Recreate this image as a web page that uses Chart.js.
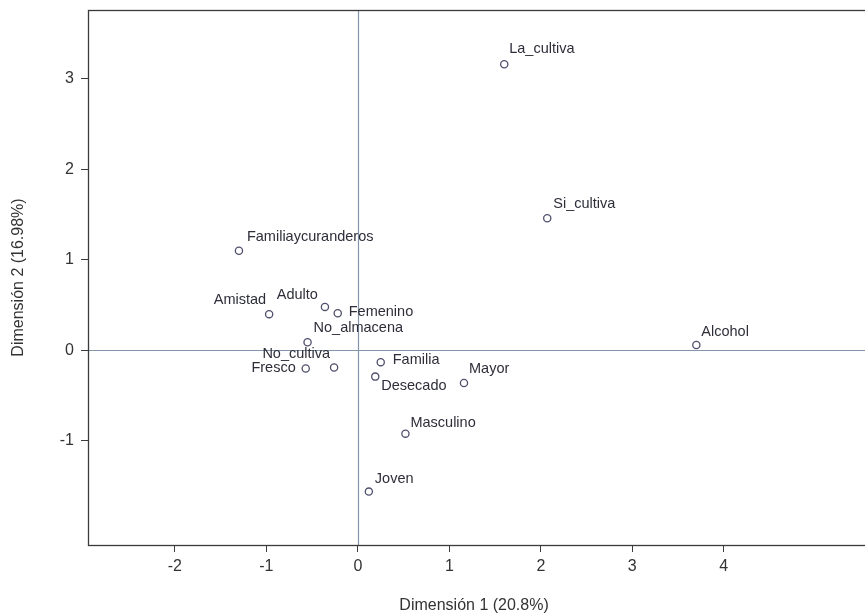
<!DOCTYPE html>
<html>
<head>
<meta charset="utf-8">
<script src="https://cdn.jsdelivr.net/npm/chart.js@4"></script>
<style>
html,body{margin:0;padding:0;background:#fff;}
#wrap{width:865px;height:615px;position:relative;}
</style>
</head>
<body>
<div id="wrap"><canvas id="c" width="865" height="615"></canvas></div>
<script>
// ---- data ----
const categories = ['La_cultiva','Si_cultiva','Familiaycuranderos','Amistad','Adulto','Femenino','No_almacena','Fresco','No_cultiva','Familia','Desecado','Mayor','Alcohol','Masculino','Joven'];
const dim1 = [1.60, 2.07, -1.30, -0.97, -0.36, -0.22, -0.55, -0.57, -0.26, 0.25, 0.19, 1.16, 3.70, 0.52, 0.12];
const dim2 = [3.16, 1.46, 1.10, 0.40, 0.48, 0.41, 0.09, -0.20, -0.19, -0.13, -0.29, -0.36, 0.06, -0.92, -1.56];
const xTickValues = [-2, -1, 0, 1, 2, 3, 4];
const yTickValues = [-1, 0, 1, 2, 3];
const xTitle = 'Dimensión 1 (20.8%)';
const yTitle = 'Dimensión 2 (16.98%)';

// ---- label placement (layout only) ----
const labelPlacement = {
  'La_cultiva': [5, -15, 'left'],
  'Si_cultiva': [6, -14, 'left'],
  'Familiaycuranderos': [8, -14, 'left'],
  'Amistad': [-3, -14, 'right'],
  'Adulto': [-7, -12, 'right'],
  'Femenino': [11, -1, 'left'],
  'No_almacena': [6, -14, 'left'],
  'Fresco': [-10, 0, 'right'],
  'No_cultiva': [-4, -14, 'right'],
  'Familia': [12, -2, 'left'],
  'Desecado': [6, 9, 'left'],
  'Mayor': [5, -14, 'left'],
  'Alcohol': [5, -13, 'left'],
  'Masculino': [5, -11, 'left'],
  'Joven': [6, -13, 'left']
};

const FONT = '"Liberation Sans", Arial, sans-serif';
const points = dim1.map((x, i) => ({x: x, y: dim2[i], label: categories[i]}));

const framePlugin = {
  id: 'frame',
  beforeDatasetsDraw(chart) {
    const {ctx, chartArea: a, scales} = chart;
    ctx.save();
    // zero reference lines
    ctx.strokeStyle = '#8196ab';
    ctx.lineWidth = 1.2;
    const x0 = Math.round(scales.x.getPixelForValue(0)) + 0.5;
    const y0 = Math.round(scales.y.getPixelForValue(0)) + 0.5;
    ctx.beginPath();
    ctx.moveTo(x0, a.top); ctx.lineTo(x0, a.bottom);
    ctx.moveTo(a.left, y0); ctx.lineTo(chart.width, y0);
    ctx.stroke();
    // frame
    ctx.strokeStyle = '#3a3a3a';
    ctx.lineWidth = 1.3;
    ctx.strokeRect(a.left + 0.5, a.top + 0.5, chart.width - a.left + 4, a.bottom - a.top);
    ctx.restore();
  },
  afterDatasetsDraw(chart) {
    const {ctx} = chart;
    const meta = chart.getDatasetMeta(0);
    ctx.save();
    ctx.font = '14.5px ' + FONT;
    ctx.fillStyle = '#2e2e3a';
    ctx.textBaseline = 'middle';
    meta.data.forEach((el, i) => {
      const name = categories[i];
      const p = labelPlacement[name] || [5, -12, 'left'];
      ctx.textAlign = p[2];
      ctx.fillText(name, el.x + p[0], el.y + p[1]);
    });
    ctx.restore();
  }
};

new Chart(document.getElementById('c'), {
  type: 'scatter',
  data: {
    datasets: [{
      data: points,
      pointStyle: 'circle',
      pointRadius: 3.6,
      pointHoverRadius: 3.6,
      pointBorderWidth: 1.3,
      pointBorderColor: '#50506e',
      pointBackgroundColor: '#ffffff'
    }]
  },
  options: {
    responsive: false,
    animation: false,
    events: [],
    layout: {padding: {top: 10, right: 0, left: 0, bottom: 0}},
    plugins: {legend: {display: false}, tooltip: {enabled: false}},
    scales: {
      x: {
        type: 'linear',
        min: -2.95,
        max: 5.49,
        afterBuildTicks(s) { s.ticks = xTickValues.map(v => ({value: v})); },
        afterFit(s) { s.height = 70; s.paddingLeft = 0; s.paddingRight = 0; },
        border: {display: false},
        grid: {drawOnChartArea: false, drawTicks: true, tickLength: 7, color: '#3a3a3a', lineWidth: 1},
        ticks: {color: '#333', font: {family: FONT, size: 16}, padding: 5, maxRotation: 0, autoSkip: false},
        title: {display: true, text: xTitle, color: '#333', font: {family: FONT, size: 16}, padding: {top: 8, bottom: 0}}
      },
      y: {
        type: 'linear',
        min: -2.15,
        max: 3.76,
        afterBuildTicks(s) { s.ticks = yTickValues.map(v => ({value: v})); },
        afterFit(s) { s.width = 88; s.paddingTop = 0; s.paddingBottom = 0; },
        border: {display: false},
        grid: {drawOnChartArea: false, drawTicks: true, tickLength: 7, color: '#3a3a3a', lineWidth: 1},
        ticks: {color: '#333', font: {family: FONT, size: 16}, padding: 7, autoSkip: false},
        title: {display: true, text: yTitle, color: '#333', font: {family: FONT, size: 16}, padding: {top: 9, bottom: 0}}
      }
    }
  },
  plugins: [framePlugin]
});
</script>
</body>
</html>
